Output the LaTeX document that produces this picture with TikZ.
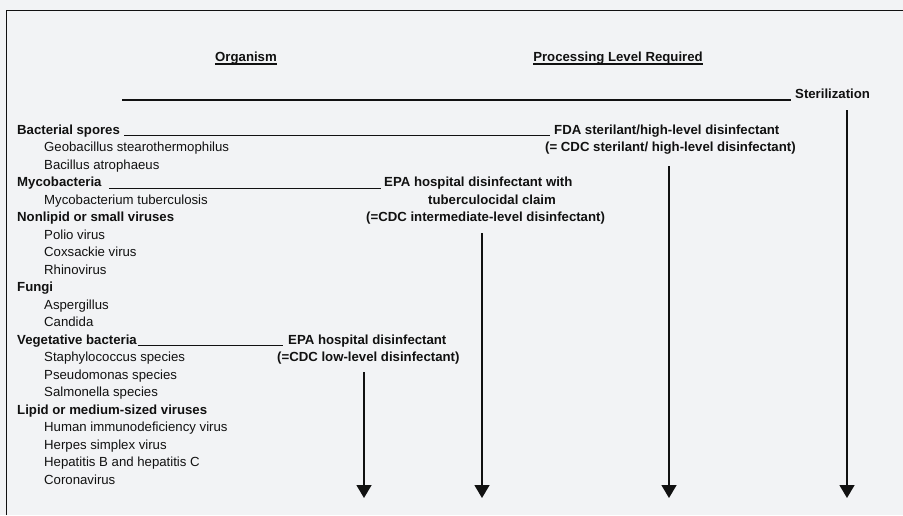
\documentclass[tikz,border=0pt]{standalone}
\usepackage{fontspec}
\setmainfont{Liberation Sans}
\usetikzlibrary{arrows.meta}
\definecolor{panelbg}{RGB}{242,243,245}
\definecolor{ink}{RGB}{17,17,17}

\begin{document}
\begin{tikzpicture}[
    x=1pt, y=-1pt,
    head/.style={font=\fontsize{13.2}{15}\selectfont\bfseries, text=ink, anchor=base west, inner sep=0pt},
    entry/.style={font=\fontsize{13.2}{15}\selectfont, text=ink, anchor=base west, inner sep=0pt},
    rule/.style={draw=ink, line width=1.2pt},
    downarrow/.style={-{Triangle[length=13pt, width=15pt]}, draw=ink, line width=1.5pt}
]

    % Background and frame
    \fill[panelbg] (0,0) rectangle (903,515);
    \useasboundingbox (0,0) rectangle (903,515);
    \draw[ink, line width=1.3pt] (6.5,515) -- (6.5,10.5) -- (903,10.5);

    % === Column titles ===
    \node[head, anchor=base] (organism) at (246,61.7) {Organism};
    \node[head, anchor=base] (proclevel) at (618,61.7) {Processing Level Required};
    \draw[rule] ([yshift=-2.3pt]organism.base west) -- ([yshift=-2.3pt]organism.base east);
    \draw[rule] ([yshift=-2.3pt]proclevel.base west) -- ([yshift=-2.3pt]proclevel.base east);

    % Sterilization line
    \node[head] (steril) at (795,98.3) {Sterilization};
    \coordinate (sterLine) at (122,100);
    \draw[rule] (sterLine) -- ([xshift=-4pt,yshift=-1.7pt]steril.base west);

    % === Organisms ===
    \node[head] (spores) at (17,134) {Bacterial spores};
    \node[entry] (geo) at (44,151.5) {Geobacillus stearothermophilus};
    \node[entry] (bacillus) at (44,169) {Bacillus atrophaeus};
    \node[head] (myco) at (17,186.5) {Mycobacteria};
    \node[entry] (mtb) at (44,204) {Mycobacterium tuberculosis};
    \node[head] (nonlipid) at (17,221.5) {Nonlipid or small viruses};
    \node[entry] (polio) at (44,239) {Polio virus};
    \node[entry] (coxsackie) at (44,256.5) {Coxsackie virus};
    \node[entry] (rhino) at (44,274) {Rhinovirus};
    \node[head] (fungi) at (17,291.5) {Fungi};
    \node[entry] (asperg) at (44,309) {Aspergillus};
    \node[entry] (candida) at (44,326.5) {Candida};
    \node[head] (vegbact) at (17,344) {Vegetative bacteria};
    \node[entry] (staph) at (44,361.5) {Staphylococcus species};
    \node[entry] (pseudo) at (44,379) {Pseudomonas species};
    \node[entry] (salmon) at (44,396.5) {Salmonella species};
    \node[head] (lipid) at (17,414) {Lipid or medium-sized viruses};
    \node[entry] (hiv) at (44,431.5) {Human immunodeficiency virus};
    \node[entry] (herpes) at (44,449) {Herpes simplex virus};
    \node[entry] (hepatitis) at (44,466.5) {Hepatitis B and hepatitis C};
    \node[entry] (corona) at (44,484) {Coronavirus};

    % === Processing levels ===
    \node[head] (fda) at (554,134) {FDA sterilant/high-level disinfectant};
    \node[head] (cdchigh) at (545,151.5) {(= CDC sterilant/ high-level disinfectant)};
    \node[head] (epatb) at (384,186.5) {EPA hospital disinfectant with};
    \node[head] (tbclaim) at (428,204) {tuberculocidal claim};
    \node[head] (cdcmid) at (366,221.5) {(=CDC intermediate-level disinfectant)};
    \node[head] (epalow) at (288,344) {EPA hospital disinfectant};
    \node[head] (cdclow) at (277,361.5) {(=CDC low-level disinfectant)};

    % Leader lines
    \draw[rule] ([xshift=4pt,yshift=-1.8pt]spores.base east) -- ([xshift=-4pt,yshift=-1.8pt]fda.base west);
    \draw[rule] ([xshift=7pt,yshift=-1.8pt]myco.base east) -- ([xshift=-3pt,yshift=-1.8pt]epatb.base west);
    \draw[rule] ([xshift=0.5pt,yshift=-1.8pt]vegbact.base east) -- ([xshift=-5pt,yshift=-1.8pt]epalow.base west);

    % === Arrows ===
    \coordinate (sterTop) at (847,110);
    \coordinate (sterEnd) at (847,498);
    \coordinate (highTop) at (669,166);
    \coordinate (highEnd) at (669,498);
    \coordinate (midTop) at (482,233);
    \coordinate (midEnd) at (482,498);
    \coordinate (lowTop) at (364,372);
    \coordinate (lowEnd) at (364,498);
    \draw[downarrow] (sterTop) -- (sterEnd);
    \draw[downarrow] (highTop) -- (highEnd);
    \draw[downarrow] (midTop) -- (midEnd);
    \draw[downarrow] (lowTop) -- (lowEnd);

\end{tikzpicture}
\end{document}
